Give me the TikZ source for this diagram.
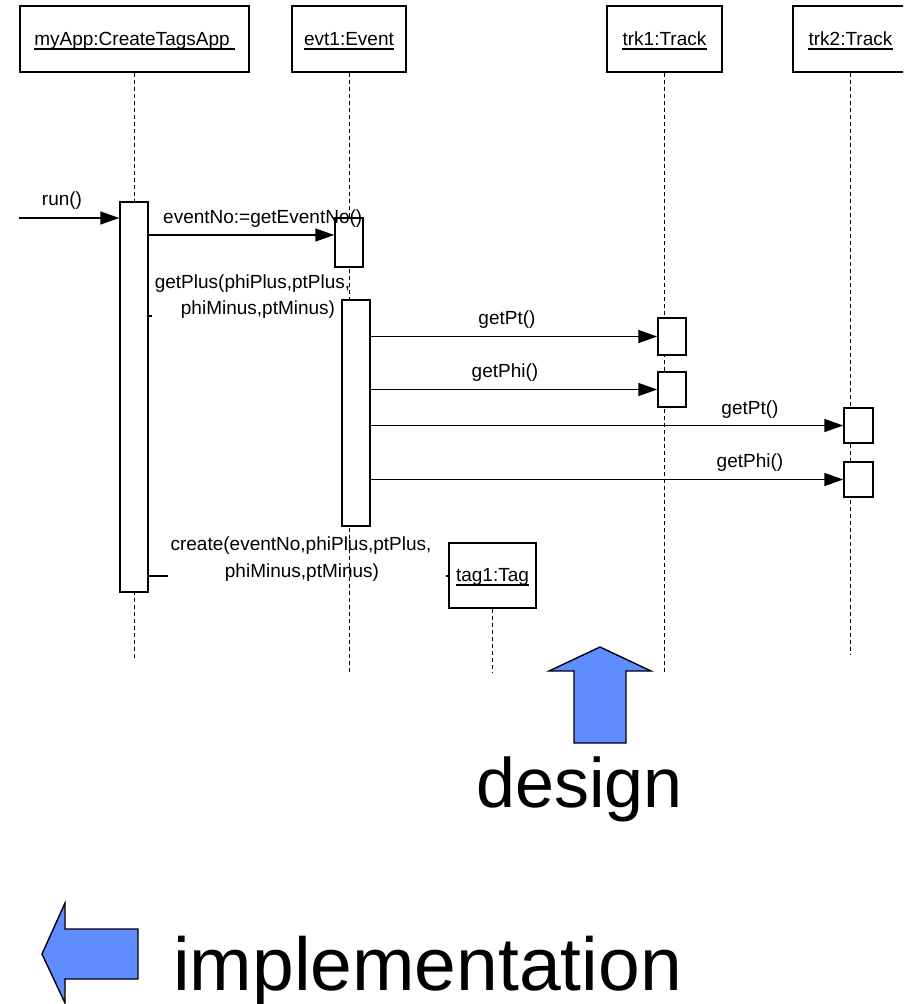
\documentclass[tikz,border=0pt]{standalone}
\usepackage{fontspec}
\setmainfont{Liberation Sans}
\usetikzlibrary{arrows.meta}
\definecolor{arrowblue}{RGB}{95,140,255}
\begin{document}
\begin{tikzpicture}[x=1pt,y=-1pt,
  hbox/.style={draw, line width=1.5pt, fill=white, minimum height=66pt, inner sep=0pt},
  lbl/.style={inner sep=0pt, font=\fontsize{19}{22}\selectfont},
  life/.style={line width=1pt, dash pattern=on 4pt off 3pt},
  act/.style={draw, line width=1.5pt, fill=white, inner sep=0pt},
  msg/.style={line width=1.5pt, -{Triangle[length=19pt,width=13pt]}},
  stub/.style={line width=1.5pt},
  ul/.style={line width=1.1pt},
  bigarrow/.style={draw, line width=1.4pt, fill=arrowblue, line join=miter},
  bigtext/.style={inner sep=0pt, anchor=base},
]
\useasboundingbox (0,0) rectangle (903,1004);
\clip (0,0) rectangle (903,1004);

% header boxes
\node[hbox, minimum width=229pt] (app) at (134.5,39) {};
\node[hbox, minimum width=114pt] (evt) at (349,39) {};
\node[hbox, minimum width=115pt] (trkA) at (664.5,39) {};
\node[hbox, minimum width=115pt] (trkB) at (850.5,39) {};

\node[lbl, anchor=base] (appT) at (132,45) {myApp:CreateTagsApp};
\node[lbl, anchor=base] (evtT) at (349,45) {evt1:Event};
\node[lbl, anchor=base] (trkAT) at (664.5,45) {trk1:Track};
\node[lbl, anchor=base] (trkBT) at (850.5,45) {trk2:Track};
\draw[ul] ([yshift=-4pt]appT.base west) -- ([yshift=-4pt,xshift=5pt]appT.base east);
\draw[ul] ([yshift=-4pt]evtT.base west) -- ([yshift=-4pt]evtT.base east);
\draw[ul] ([yshift=-4pt]trkAT.base west) -- ([yshift=-4pt]trkAT.base east);
\draw[ul] ([yshift=-4pt]trkBT.base west) -- ([yshift=-4pt]trkBT.base east);

% tag box
\node[hbox, minimum width=87pt, minimum height=65pt] (tag) at (492.5,575.5) {};
\node[lbl, anchor=base] (tagT) at (492.5,581) {tag1:Tag};
\draw[ul] ([yshift=-4pt]tagT.base west) -- ([yshift=-4pt]tagT.base east);

% lifeline ends
\coordinate (appEnd) at (134.5,658);
\coordinate (evtEnd) at (349,673);
\coordinate (trkAEnd) at (664.5,672);
\coordinate (trkBEnd) at (850.5,655);
\coordinate (tagEnd) at (492.5,673);
\draw[life] (app.south) -- (appEnd);
\draw[life] (evt.south) -- (evtEnd);
\draw[life] (trkA.south) -- (trkAEnd);
\draw[life] (trkB.south) -- (trkBEnd);
\draw[life] (tag.south) -- (tagEnd);

% activation boxes
\node[act, minimum width=28pt, minimum height=390pt] (A1) at (134,397) {};
\node[act, minimum width=28pt, minimum height=49pt] (E1) at (349,242.5) {};
\node[act, minimum width=28pt, minimum height=226pt] (E2) at (356,413) {};
\node[act, minimum width=28pt, minimum height=37pt] (T1a) at (672,336.5) {};
\node[act, minimum width=28pt, minimum height=35pt] (T1b) at (672,389.5) {};
\node[act, minimum width=29pt, minimum height=35pt] (T2a) at (858.5,425.5) {};
\node[act, minimum width=29pt, minimum height=35pt] (T2b) at (858.5,479.5) {};

% messages
\coordinate (runStart) at (19,218);
\draw[msg] (runStart) -- (runStart -| A1.west);
\node[lbl, anchor=base] (runL) at (62,205) {run()};

\coordinate (evY) at (240,235);
\draw[msg] (A1.east |- evY) -- (E1.west |- evY);
\node[lbl, anchor=base west] (evL) at (163,223) {eventNo:=getEventNo()};

\coordinate (gpEnd) at (152,316);
\draw[stub] (A1.east |- gpEnd) -- (gpEnd);
\node[lbl, anchor=base] (gpL1) at (252.5,288) {getPlus(phiPlus,ptPlus,};
\node[lbl, anchor=base] (gpL2) at (258,314) {phiMinus,ptMinus)};

\draw[msg] (E2.east |- T1a.west) -- (T1a.west);
\node[lbl, anchor=base] (m1) at (507,324) {getPt()};
\draw[msg] (E2.east |- T1b.west) -- (T1b.west);
\node[lbl, anchor=base] (m2) at (505,377) {getPhi()};
\draw[msg] (E2.east |- T2a.west) -- (T2a.west);
\node[lbl, anchor=base] (m3) at (750,414) {getPt()};
\draw[msg] (E2.east |- T2b.west) -- (T2b.west);
\node[lbl, anchor=base] (m4) at (750,467) {getPhi()};

\coordinate (crA) at (168,576);
\coordinate (crB) at (446,576);
\draw[stub] (A1.east |- crA) -- (crA);
\draw[stub] (crB) -- (tag.west |- crB);
\node[lbl, anchor=base] (crL1) at (301,550) {create(eventNo,phiPlus,ptPlus,};
\node[lbl, anchor=base] (crL2) at (302,577) {phiMinus,ptMinus)};

% big arrows
\draw[bigarrow] (600,647) -- (651,671) -- (626,671) -- (626,743) -- (574,743) -- (574,671) -- (549,671) -- cycle;
\draw[bigarrow] (42,954) -- (65,903) -- (65,929) -- (138,929) -- (138,979) -- (65,979) -- (65,1003) -- cycle;

\node[bigtext, font=\fontsize{70}{84}\selectfont] (design) at (579.5,807) {design};
\node[bigtext, font=\fontsize{75}{90}\selectfont] (impl) at (427.5,990) {implementation};
\end{tikzpicture}
\end{document}
